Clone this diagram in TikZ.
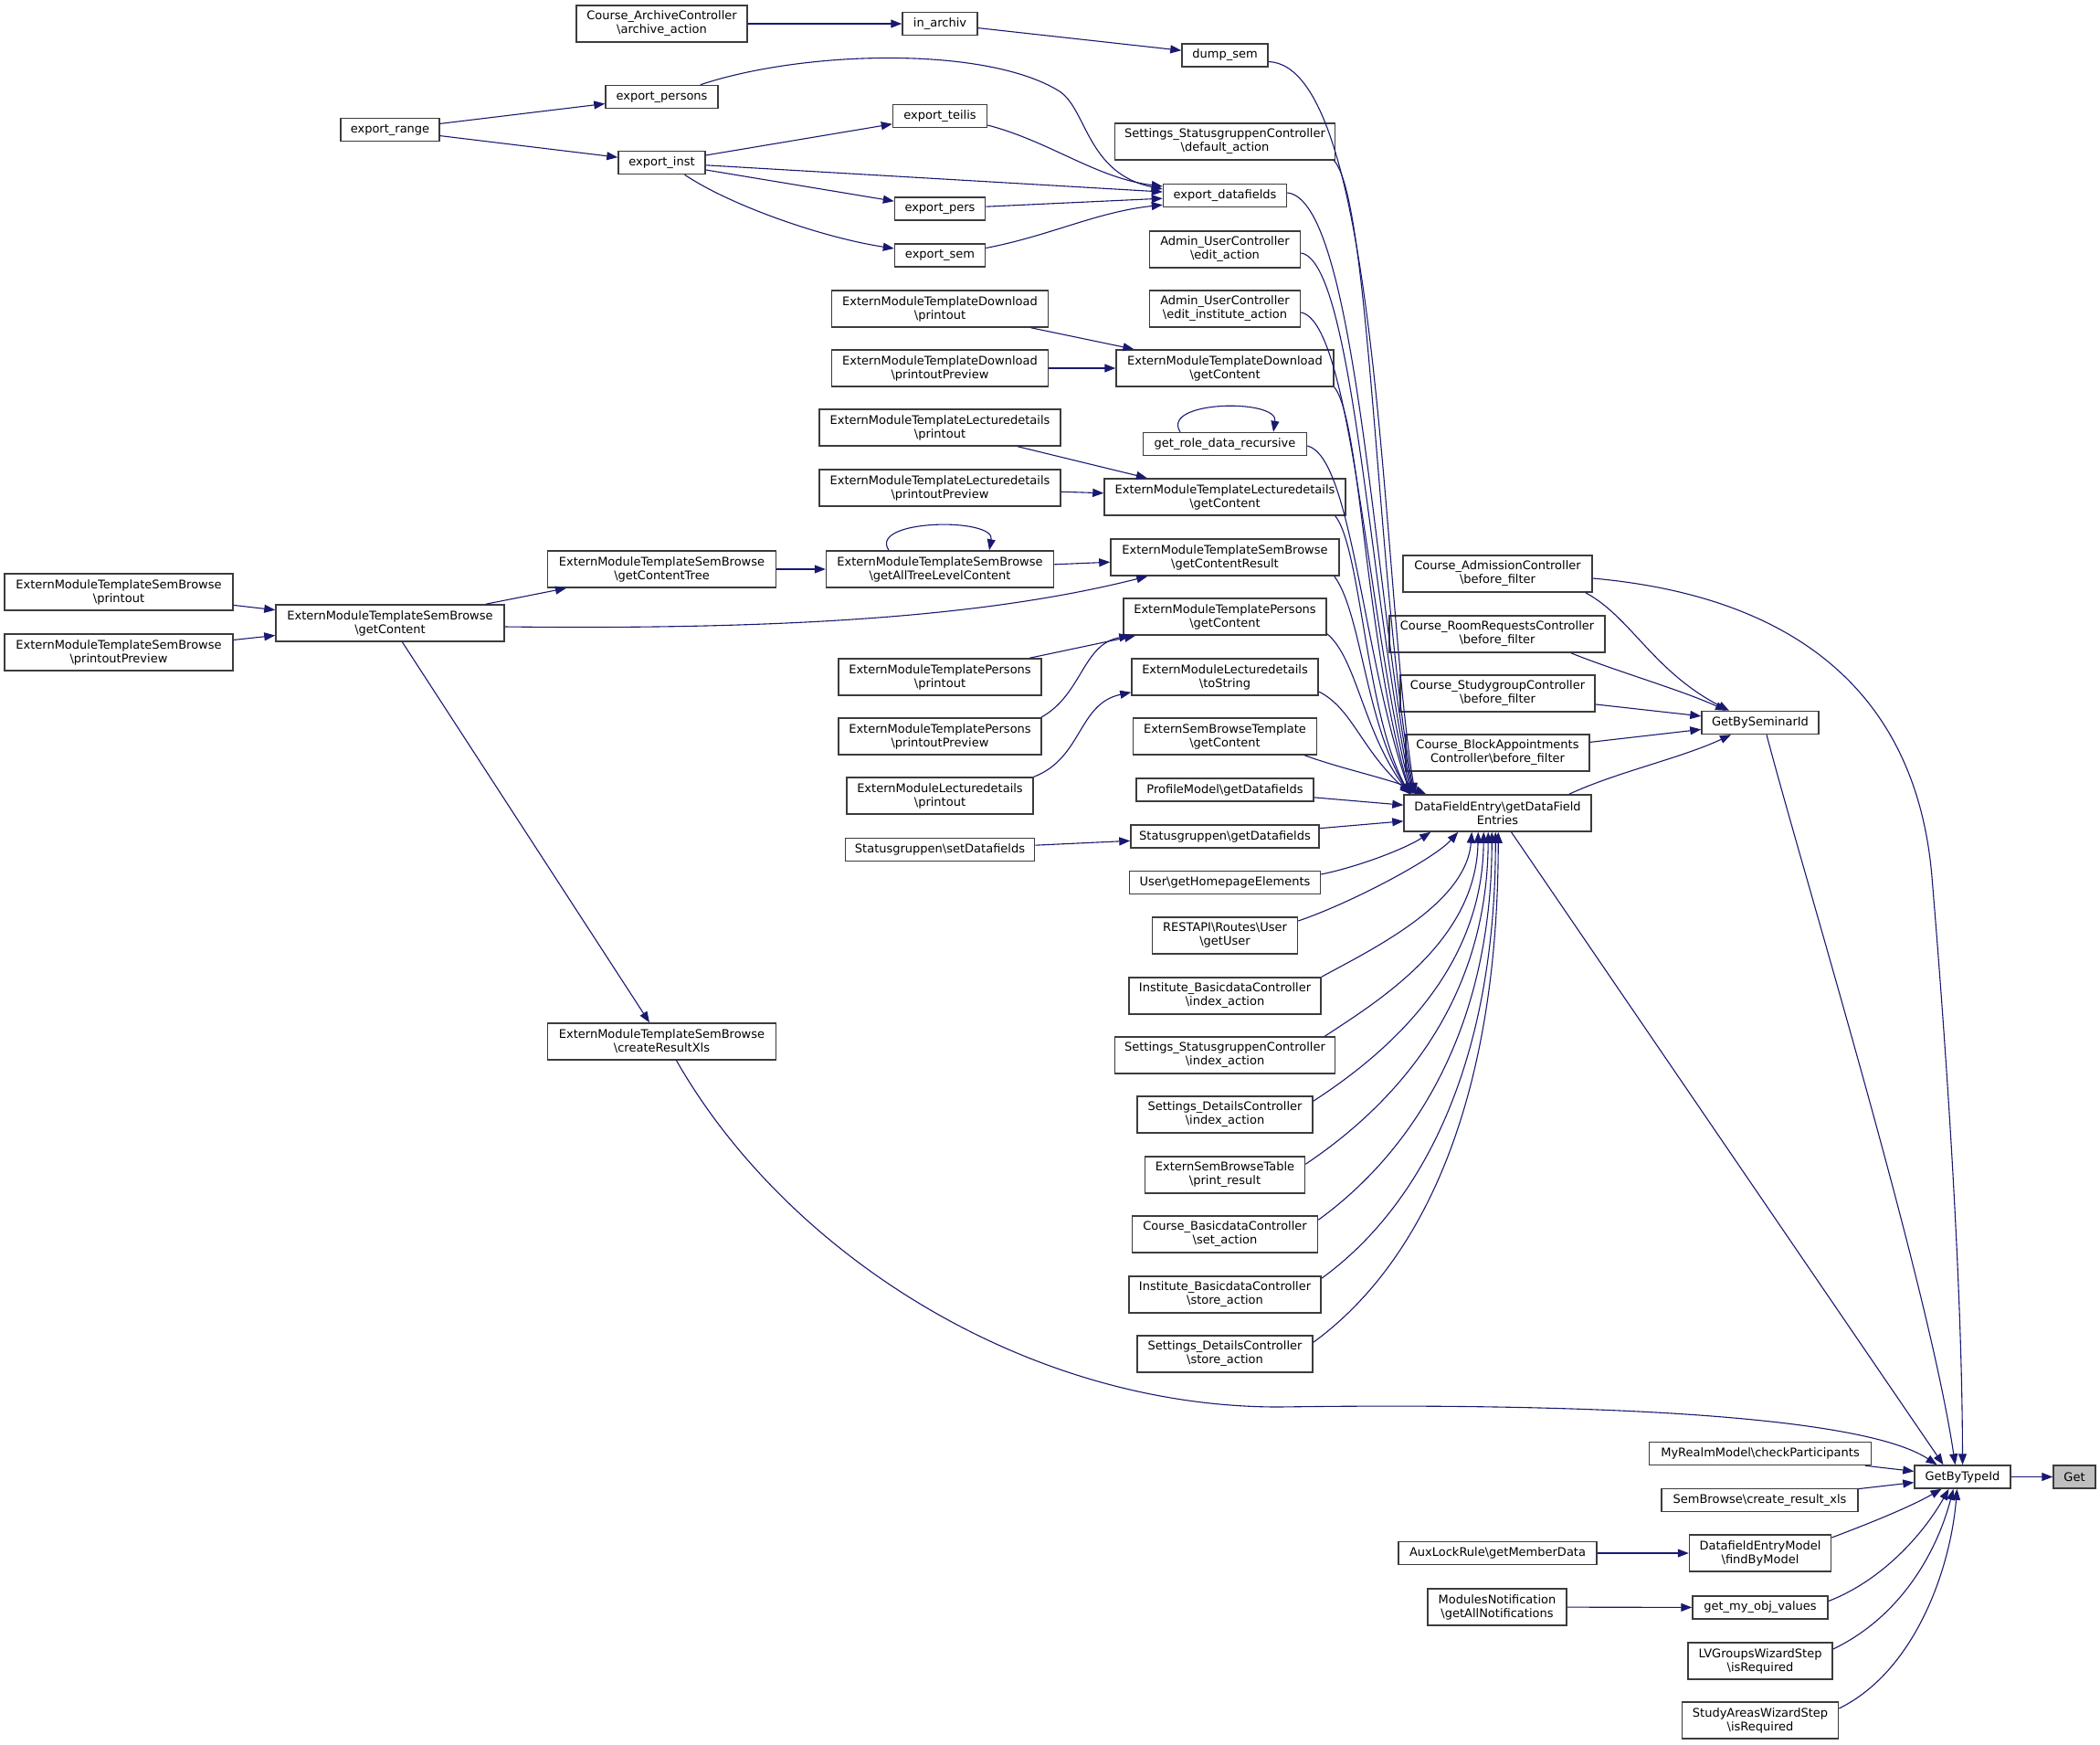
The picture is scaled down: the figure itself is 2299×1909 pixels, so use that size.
\documentclass[tikz,border=0pt]{standalone}
\usepackage{fontspec}
\setmainfont{DejaVu Sans}
\usetikzlibrary{arrows.meta}
\definecolor{edgec}{HTML}{191970}
\definecolor{boxc}{HTML}{3C3C3C}
\definecolor{getfill}{HTML}{BFBFBF}
\newcommand{\bsl}{\textbackslash}
\tikzset{
  fn/.style={draw=boxc, line width=1.5pt, fill=white, inner sep=0pt, align=center,
    minimum height=25pt, font=\fontsize{13}{15}\selectfont},
  fntwo/.style={fn, minimum height=40pt},
  edge/.style={draw=edgec, line width=1.1pt, -{Triangle[length=12pt,width=9pt]}},
}
\begin{document}
\begin{tikzpicture}[x=1pt,y=-1pt]
\useasboundingbox (0,0) rectangle (2299,1909);
\fill[white] (0,0) rectangle (2299,1909);

% ---------- nodes ----------
\node[fntwo, minimum width=187pt] (arch) at (724.5,26) {Course\_ArchiveController\\\bsl archive\_action};
\node[fn, minimum width=82pt] (inarch) at (1029,26) {in\_archiv};
\node[fn, minimum width=94pt] (dump) at (1341,60.5) {dump\_sem};
\node[fn, minimum width=123pt] (epersons) at (724.5,106) {export\_persons};
\node[fn, minimum width=108pt] (erange) at (427,142) {export\_range};
\node[fn, minimum width=95pt] (einst) at (724.5,178) {export\_inst};
\node[fn, minimum width=103pt] (eteilis) at (1029,127) {export\_teilis};
\node[fntwo, minimum width=241pt] (ssdef) at (1341,155) {Settings\_StatusgruppenController\\\bsl default\_action};
\node[fn, minimum width=135pt] (edf) at (1341,214) {export\_datafields};
\node[fn, minimum width=99pt] (epers) at (1029,228.5) {export\_pers};
\node[fn, minimum width=99pt] (esem) at (1029,279.5) {export\_sem};
\node[fntwo, minimum width=165pt] (auedit) at (1341,273) {Admin\_UserController\\\bsl edit\_action};
\node[fntwo, minimum width=237pt] (emtdp) at (1029,338) {ExternModuleTemplateDownload\\\bsl printout};
\node[fntwo, minimum width=165pt] (auedinst) at (1341,338) {Admin\_UserController\\\bsl edit\_institute\_action};
\node[fntwo, minimum width=237pt] (emtdpp) at (1029,403) {ExternModuleTemplateDownload\\\bsl printoutPreview};
\node[fntwo, minimum width=238pt] (emtdgc) at (1341,403) {ExternModuleTemplateDownload\\\bsl getContent};
\node[fntwo, minimum width=264pt] (emtlp) at (1029,468) {ExternModuleTemplateLecturedetails\\\bsl printout};
\node[fn, minimum width=179pt] (grdr) at (1341,486) {get\_role\_data\_recursive};
\node[fntwo, minimum width=264pt] (emtlpp) at (1029,534) {ExternModuleTemplateLecturedetails\\\bsl printoutPreview};
\node[fntwo, minimum width=264pt] (emtlgc) at (1341,544) {ExternModuleTemplateLecturedetails\\\bsl getContent};
\node[fntwo, minimum width=249pt] (emtsbatl) at (1029,623) {ExternModuleTemplateSemBrowse\\\bsl getAllTreeLevelContent};
\node[fntwo, minimum width=250pt] (emtsbgcr) at (1341,610) {ExternModuleTemplateSemBrowse\\\bsl getContentResult};
\node[fntwo, minimum width=222pt] (emtpgc) at (1341,675) {ExternModuleTemplatePersons\\\bsl getContent};
\node[fntwo, minimum width=222pt] (emtpp) at (1029,741) {ExternModuleTemplatePersons\\\bsl printout};
\node[fntwo, minimum width=204pt] (emlts) at (1341,741) {ExternModuleLecturedetails\\\bsl toString};
\node[fntwo, minimum width=222pt] (emtppp) at (1029,806) {ExternModuleTemplatePersons\\\bsl printoutPreview};
\node[fntwo, minimum width=201pt] (esbtgc) at (1341,806) {ExternSemBrowseTemplate\\\bsl getContent};
\node[fntwo, minimum width=204pt] (emlp) at (1029,871) {ExternModuleLecturedetails\\\bsl printout};
\node[fn, minimum width=194pt] (pmgd) at (1341,864.5) {ProfileModel\bsl getDatafields};
\node[fn, minimum width=207pt] (sgsd) at (1029,930) {Statusgruppen\bsl setDatafields};
\node[fn, minimum width=206pt] (sggd) at (1341,915.5) {Statusgruppen\bsl getDatafields};
\node[fn, minimum width=209pt] (ughe) at (1341,966) {User\bsl getHomepageElements};
\node[fntwo, minimum width=159pt] (rest) at (1341,1024) {RESTAPI\bsl Routes\bsl User\\\bsl getUser};
\node[fntwo, minimum width=210pt] (ibdi) at (1341,1090) {Institute\_BasicdataController\\\bsl index\_action};
\node[fntwo, minimum width=241pt] (ssidx) at (1341,1155) {Settings\_StatusgruppenController\\\bsl index\_action};
\node[fntwo, minimum width=192pt] (sdidx) at (1341,1220) {Settings\_DetailsController\\\bsl index\_action};
\node[fntwo, minimum width=175pt] (esbtpr) at (1341,1286) {ExternSemBrowseTable\\\bsl print\_result};
\node[fntwo, minimum width=203pt] (cbdset) at (1341,1351) {Course\_BasicdataController\\\bsl set\_action};
\node[fntwo, minimum width=210pt] (ibds) at (1341,1417) {Institute\_BasicdataController\\\bsl store\_action};
\node[fntwo, minimum width=192pt] (sdst) at (1341,1482) {Settings\_DetailsController\\\bsl store\_action};
\node[fntwo, minimum width=250pt] (emtsbp) at (130,648) {ExternModuleTemplateSemBrowse\\\bsl printout};
\node[fntwo, minimum width=250pt] (emtsbpp) at (130,714) {ExternModuleTemplateSemBrowse\\\bsl printoutPreview};
\node[fntwo, minimum width=250pt] (emtsbgc) at (427,682) {ExternModuleTemplateSemBrowse\\\bsl getContent};
\node[fntwo, minimum width=250pt] (emtsbgct) at (724.5,623) {ExternModuleTemplateSemBrowse\\\bsl getContentTree};
\node[fntwo, minimum width=250pt] (emtsbcrx) at (724.5,1140) {ExternModuleTemplateSemBrowse\\\bsl createResultXls};
\node[fntwo, minimum width=207pt] (cadm) at (1639.5,628) {Course\_AdmissionController\\\bsl before\_filter};
\node[fntwo, minimum width=236pt] (croom) at (1639,694) {Course\_RoomRequestsController\\\bsl before\_filter};
\node[fntwo, minimum width=213pt] (cstudy) at (1639.5,759) {Course\_StudygroupController\\\bsl before\_filter};
\node[fntwo, minimum width=201pt] (cblock) at (1639.5,824) {Course\_BlockAppointments\\Controller\bsl before\_filter};
\node[fn, minimum width=128pt] (gbs) at (1927,791) {GetBySeminarId};
\node[fntwo, minimum width=205pt] (dfe) at (1639.5,890) {DataFieldEntry\bsl getDataField\\Entries};
\node[fn, minimum width=243pt] (mrm) at (1927,1591) {MyRealmModel\bsl checkParticipants};
\node[fn, minimum width=105pt] (gbt) at (2148.5,1616.5) {GetByTypeId};
\node[fn, minimum width=46pt, fill=getfill] (get) at (2271,1616.5) {Get};
\node[fn, minimum width=215pt] (sbcrx) at (1926.5,1642) {SemBrowse\bsl create\_result\_xls};
\node[fntwo, minimum width=155pt] (defm) at (1927,1700) {DatafieldEntryModel\\\bsl findByModel};
\node[fn, minimum width=217pt] (aux) at (1639.5,1700) {AuxLockRule\bsl getMemberData};
\node[fn, minimum width=148pt] (gmov) at (1927,1759.5) {get\_my\_obj\_values};
\node[fntwo, minimum width=152pt] (mnot) at (1639,1759) {ModulesNotification\\\bsl getAllNotifications};
\node[fntwo, minimum width=158pt] (lvg) at (1927,1818) {LVGroupsWizardStep\\\bsl isRequired};
\node[fntwo, minimum width=171pt] (sawz) at (1927,1883) {StudyAreasWizardStep\\\bsl isRequired};

% ---------- edges: top-left part ----------
\draw[edge] (arch) -- (inarch);
\draw[edge] (inarch) -- (dump);
\draw[edge] (erange) -- (epersons);
\draw[edge] (erange) -- (einst);
\draw[edge] ([xshift=-20pt]epersons.north east) .. controls (880,55) and (1080,50) .. (1160,100)
   .. controls (1190,120) and (1190,190) .. ([yshift=7pt]edf.west);
\draw[edge] (einst) -- (eteilis);
\draw[edge] (einst) -- (edf);
\draw[edge] (einst) -- (epers);
\draw[edge] ([xshift=25pt]einst.south) .. controls (800,225) and (900,260) .. ([yshift=7.5pt]esem.west);
\draw[edge] ([yshift=-10pt]eteilis.east) .. controls (1150,155) and (1200,195) .. ([yshift=10pt]edf.west);
\draw[edge] (epers) -- (edf);
\draw[edge] ([yshift=8pt]esem.east) .. controls (1150,258) and (1200,232) .. ([yshift=3pt]edf.south west);

\draw[edge] (emtdp) -- (emtdgc);
\draw[edge] (emtdpp) -- (emtdgc);
\draw[edge] ([xshift=-49pt]grdr.north) .. controls (1270,438) and (1400,436) .. ([xshift=53pt]grdr.north);
\draw[edge] (emtlp) -- (emtlgc);
\draw[edge] (emtlpp) -- (emtlgc);
\draw[edge] (emtsbp) -- (emtsbgc);
\draw[edge] (emtsbpp) -- (emtsbgc);
\draw[edge] (emtsbgc) -- (emtsbgct);
\draw[edge] (emtsbgct) -- (emtsbatl);
\draw[edge] ([xshift=-56pt]emtsbatl.north) .. controls (950,568) and (1090,566) .. ([xshift=54pt]emtsbatl.north);
\draw[edge] (emtsbatl) -- (emtsbgcr);
\draw[edge] ([yshift=-4pt]emtsbgc.east) .. controls (900,690) and (1100,670) .. ([xshift=41pt]emtsbgcr.south west);
\draw[edge] (emtsbgc) -- (emtsbcrx);
\draw[edge] (emtpp) -- (emtpgc);
\draw[edge] ([xshift=-1pt]emtppp.north east) .. controls (1185,760) and (1185,705) .. ([xshift=8pt]emtpgc.south west);
\draw[edge] (emlp.north east) .. controls (1185,830) and (1180,770) .. ([yshift=4pt]emlts.south west);
\draw[edge] (sgsd) -- (sggd);

% ---------- edges into DataFieldEntry (from above) ----------
\draw[edge] ([yshift=-7pt]dump.east) .. controls (1512,72) and (1512,640) .. ([xshift=13pt]dfe.north west);
\draw[edge] ([xshift=-2pt]ssdef.south east) .. controls (1500,215) and (1508,650) .. ([xshift=12pt]dfe.north west);
\draw[edge] ([yshift=3pt]edf.east) .. controls (1485,218) and (1504,650) .. ([xshift=11pt]dfe.north west);
\draw[edge] ([yshift=-4pt]auedit.east) .. controls (1482,285) and (1500,660) .. ([xshift=10pt]dfe.north west);
\draw[edge] ([yshift=-4pt]auedinst.east) .. controls (1480,352) and (1497,680) .. ([xshift=9pt]dfe.north west);
\draw[edge] (emtdgc.south east) .. controls (1490,460) and (1494,700) .. ([xshift=8pt]dfe.north west);
\draw[edge] ([yshift=-2pt]grdr.east) .. controls (1480,500) and (1492,720) .. ([xshift=8pt]dfe.north west);
\draw[edge] ([xshift=-12pt]emtlgc.south east) .. controls (1490,600) and (1495,780) .. ([xshift=7pt]dfe.north west);
\draw[edge] ([xshift=-6pt]emtsbgcr.south east) .. controls (1490,670) and (1495,790) .. ([xshift=7pt]dfe.north west);
\draw[edge] ([yshift=2pt]emtpgc.south east) .. controls (1485,720) and (1492,800) .. ([xshift=7pt]dfe.north west);
\draw[edge] ([yshift=-16pt]emlts.east) .. controls (1480,775) and (1490,820) .. ([xshift=8pt]dfe.north west);
\draw[edge] ([xshift=-14pt]esbtgc.south east) .. controls (1470,842) and (1520,852) .. ([xshift=25pt]dfe.north west);
\draw[edge] (pmgd) -- (dfe);
\draw[edge] (sggd) -- (dfe);

% ---------- edges into DataFieldEntry (from below) ----------
\draw[edge] ([yshift=9pt]ughe.east) .. controls (1490,948) and (1540,928) .. ([xshift=30pt]dfe.south west);
\draw[edge] ([yshift=16pt]rest.east) .. controls (1480,988) and (1570,940) .. ([xshift=60pt]dfe.south west);
\draw[edge] (ibdi.north east) .. controls (1500,1040) and (1605,990) .. ([xshift=75pt]dfe.south west);
\draw[edge] ([xshift=-12pt]ssidx.north east) .. controls (1510,1095) and (1616,1030) .. ([xshift=82pt]dfe.south west);
\draw[edge] ([yshift=-6pt]sdidx.north east) .. controls (1515,1155) and (1623,1065) .. ([xshift=88pt]dfe.south west);
\draw[edge] ([yshift=-9pt]esbtpr.north east) .. controls (1525,1210) and (1628,1100) .. ([xshift=93pt]dfe.south west);
\draw[edge] ([yshift=-5pt]cbdset.north east) .. controls (1540,1265) and (1633,1135) .. ([xshift=97pt]dfe.south west);
\draw[edge] ([yshift=-3pt]ibds.north east) .. controls (1556,1320) and (1637,1165) .. ([xshift=101pt]dfe.south west);
\draw[edge] ([yshift=-8pt]sdst.north east) .. controls (1560,1380) and (1640,1200) .. ([xshift=104pt]dfe.south west);

% ---------- right part ----------
\draw[edge] ([xshift=-8pt]cadm.south east) .. controls (1785,675) and (1810,735) .. ([xshift=-34pt]gbs.north);
\draw[edge] ([yshift=-5pt]cadm.east) .. controls (1990,655) and (2100,780) .. (2115,960)
   .. controls (2130,1140) and (2148,1400) .. (gbt.north);
\draw[edge] ([xshift=-38pt]croom.south east) .. controls (1770,735) and (1840,755) .. ([xshift=-37pt]gbs.north);
\draw[edge] (cstudy) -- (gbs);
\draw[edge] (cblock) -- (gbs);
\draw[edge] ([xshift=-25pt]dfe.north east) .. controls (1770,845) and (1840,830) .. ([xshift=-32pt]gbs.south);
\draw[edge] ([xshift=15pt]dfe.south) -- ([xshift=-21pt]gbt.north);
\draw[edge] ([xshift=7pt]gbs.south) .. controls (1975,960) and (2110,1400) .. ([xshift=-8pt]gbt.north);
\draw[edge] ([xshift=16pt]emtsbcrx.south) .. controls (860,1370) and (1120,1540) .. (1400,1540)
   .. controls (1750,1535) and (2040,1550) .. ([xshift=-28pt]gbt.north);
\draw[edge] (mrm) -- (gbt);
\draw[edge] (sbcrx) -- (gbt);
\draw[edge] ([yshift=17pt]defm.east) .. controls (2045,1668) and (2090,1650) .. ([xshift=-23pt]gbt.south);
\draw[edge] (aux) -- (defm);
\draw[edge] ([yshift=7pt]gmov.east) .. controls (2060,1730) and (2105,1680) .. ([xshift=-15pt]gbt.south);
\draw[edge] (mnot) -- (gmov);
\draw[edge] ([yshift=13pt]lvg.east) .. controls (2080,1770) and (2120,1700) .. ([xshift=-10pt]gbt.south);
\draw[edge] ([yshift=13pt]sawz.east) .. controls (2095,1830) and (2135,1720) .. ([xshift=-6pt]gbt.south);
\draw[edge] (gbt) -- (get);
\end{tikzpicture}
\end{document}
